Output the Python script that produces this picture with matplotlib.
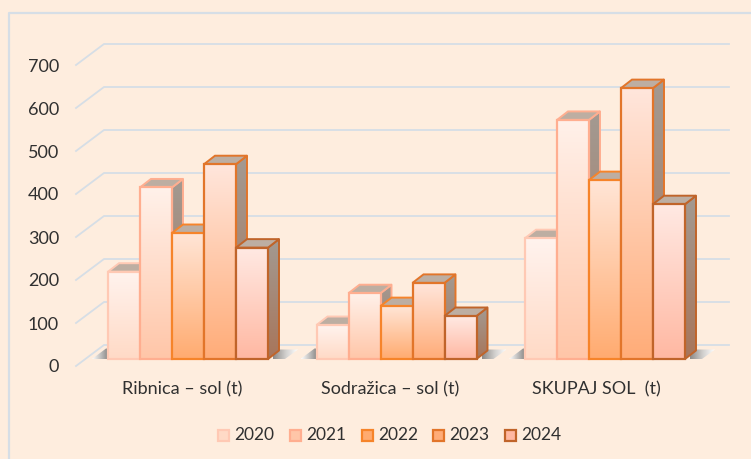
import numpy as np
import matplotlib
matplotlib.use('Agg')
import matplotlib.pyplot as plt
from matplotlib.colors import LinearSegmentedColormap
from matplotlib.patches import Polygon, Rectangle

# data
categories = ['Ribnica – sol (t)', 'Sodražica – sol (t)', 'SKUPAJ SOL  (t)']
years = ['2020', '2021', '2022', '2023', '2024']
v2020 = [203, 79, 281]
v2021 = [399, 153, 556]
v2022 = [293, 123, 416]
v2023 = [453, 177, 630]
v2024 = [259, 100, 360]
series = [v2020, v2021, v2022, v2023, v2024]
yticks = [0, 100, 200, 300, 400, 500, 600, 700]

# styles
bg = '#FEEDDE'
gridc = '#D6DEE6'
textc = '#303030'
edges = ['#FFC9B4', '#FFAE90', '#F6842A', '#E2752A', '#C0642A']
tops = ['#FFF3EE', '#FFF1EA', '#FFE5D6', '#FFE6DC', '#FFE9E3']
bottoms = ['#FFDAC6', '#FFC6A8', '#FFAB70', '#FFAC78', '#FFB8A2']
font = 'Lato'

# one data unit in y = 0.43 px, axes fill the figure, x is in pixels
W, H = 751, 459
px = 100 / 43
y_base = 359
fig = plt.figure(figsize=(W / 100, H / 100), dpi=100, facecolor=bg)
ax = fig.add_axes([0, 0, 1, 1])
ax.set_xlim(0, W)
ax.set_ylim(-(H - y_base) * px, y_base * px)
ax.axis('off')

dx, dy = 11, 8.5 * px     # depth of a bar
gdx, gdy = 28, 21 * px    # depth of the floor
front = 7 * px            # floor front edge sits below the bar base
bar_w = 32
group_x = [108, 316.5, 525]
label_x = [182, 390, 596]

# frame
ax.plot([W, 9, 9], [(y_base - 13) * px, (y_base - 13) * px, -(H - y_base) * px],
        color=gridc, lw=1.6, zorder=1)

# grid and tick labels
for t in yticks:
    y0 = t - front
    ax.plot([76, 104, 729], [y0, y0 + gdy, y0 + gdy], color=gridc, lw=1.3, zorder=1,
            solid_joinstyle='miter')
    ax.text(59, y0 - 1.5 * px, str(t), ha='right', va='center', fontsize=13,
            color=textc, family=font)

grad = np.linspace(0, 1, 128).reshape(-1, 1)
grad_h = np.linspace(0, 1, 64).reshape(1, -1)
shade_l = LinearSegmentedColormap.from_list('sl', ['#FFFFFF', '#8C8A88'])
shade_r = LinearSegmentedColormap.from_list('sr', ['#8C8A88', '#D0CECC', '#FFFFFF'])

# floor shadow
for g in group_x:
    left = [(g - 16, 0), (g - 2, 10.5 * px), (g, 10.5 * px), (g, 0)]
    im = ax.imshow(grad_h, extent=[g - 16, g, 0, 10.5 * px], cmap=shade_l, aspect='auto',
                   zorder=2, interpolation='bilinear')
    im.set_clip_path(Polygon(left, closed=True, transform=ax.transData))
    right = [(g + 160, 0), (g + 171, 9.5 * px), (g + 190, 9.5 * px), (g + 177, 0)]
    im = ax.imshow(grad_h, extent=[g + 165, g + 190, 0, 9.5 * px], cmap=shade_r, aspect='auto',
                   zorder=2, interpolation='bilinear')
    im.set_clip_path(Polygon(right, closed=True, transform=ax.transData))

# bars, drawn left to right so the later ones cover the side faces
for j, g in enumerate(group_x):
    for i, vals in enumerate(series):
        v = vals[j]
        x = g + i * bar_w
        z = 3 + i
        cm = LinearSegmentedColormap.from_list('f', [tops[i], bottoms[i]])
        side = LinearSegmentedColormap.from_list('s', ['#A39A92', '#A8755A'])
        # side face
        pts = [(x + bar_w, 0), (x + bar_w + dx, dy), (x + bar_w + dx, v + dy), (x + bar_w, v)]
        im = ax.imshow(grad, extent=[x + bar_w, x + bar_w + dx, 0, v + dy], cmap=side,
                       aspect='auto', zorder=z, interpolation='bilinear')
        im.set_clip_path(Polygon(pts, closed=True, transform=ax.transData))
        ax.add_patch(Polygon(pts, closed=True, fc='none', ec=edges[i], lw=1.4, zorder=z,
                             joinstyle='round'))
        # top face
        ax.add_patch(Polygon([(x, v), (x + dx, v + dy), (x + bar_w + dx, v + dy), (x + bar_w, v)],
                             closed=True, fc='#BDAEA2', ec=edges[i], lw=1.4, zorder=z))
        # front face
        ax.imshow(grad, extent=[x, x + bar_w, 0, v], cmap=cm, aspect='auto', zorder=z + 0.1,
                  interpolation='bilinear')
        ax.bar(x, v, width=bar_w, align='edge', fc='none', ec=edges[i], lw=1.6, zorder=z + 0.2)

ax.set_xlim(0, W)
ax.set_ylim(-(H - y_base) * px, y_base * px)

# category labels
for lx, c in zip(label_x, categories):
    ax.text(lx, -30 * px, c, ha='center', va='center', fontsize=13, color=textc,
            family=font)

# legend
leg_x = [218, 290, 362, 433, 505]
for lx, yr, e, t, b in zip(leg_x, years, edges, tops, bottoms):
    ax.add_patch(Rectangle((lx, -81.5 * px), 11, 11 * px, fc=b, ec=e, lw=1.6, zorder=3))
    ax.text(lx + 16, -76.5 * px, yr, ha='left', va='center', fontsize=12.5, color=textc,
            family=font)

fig.savefig('out.png', dpi=100, facecolor=bg)
